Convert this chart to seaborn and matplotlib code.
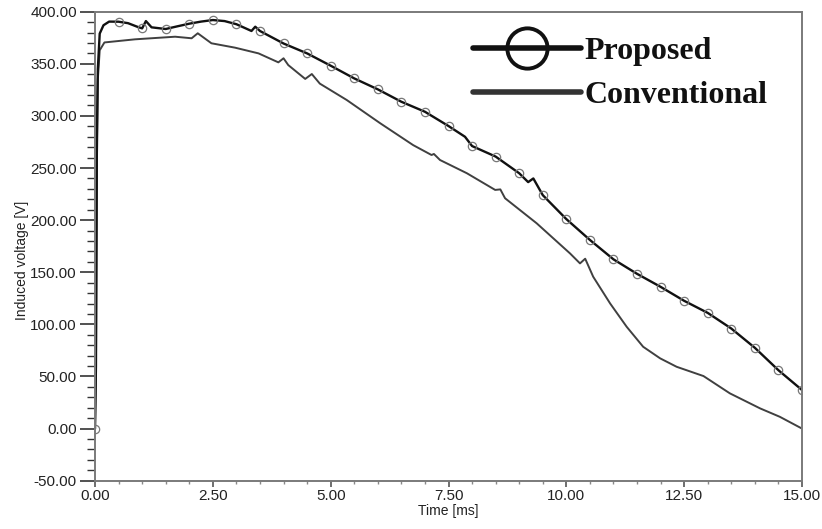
import numpy as np
import matplotlib
matplotlib.use("Agg")
import matplotlib.pyplot as plt
import seaborn as sns
from matplotlib.lines import Line2D
from matplotlib.ticker import MultipleLocator, FormatStrFormatter

# ---- data ----
prop_t = [0.0, 0.02, 0.04, 0.06, 0.1, 0.18, 0.3, 0.5, 0.7, 0.9, 1.0, 1.08, 1.2,
          1.5, 1.75, 2.0, 2.25, 2.5, 2.75, 3.0, 3.32, 3.4, 3.5, 4.0, 4.5, 5.0,
          5.5, 6.0, 6.5, 7.0, 7.5, 7.85, 8.0, 8.5, 9.0, 9.19, 9.3, 9.5, 10.0,
          10.5, 11.0, 11.5, 12.0, 12.5, 13.0, 13.5, 14.0, 14.5, 15.0]
prop_v = [0.0, 60, 280, 345, 379, 387, 390.5, 390.4, 389, 385.5, 384, 391, 385,
          383.4, 386, 388.5, 390.5, 392, 391, 388, 381.5, 385.6, 381.5, 369.5, 360, 348.2,
          336, 325.5, 313.6, 304, 290.3, 280, 271.1, 261, 245, 236.5, 240, 224, 201,
          181, 162.4, 148.5, 136, 122.6, 111, 96, 77.5, 56, 37]

conv_t = [0.0, 0.02, 0.04, 0.06, 0.1, 0.2, 0.85, 1.7, 2.05, 2.18, 2.47, 2.97,
          3.47, 3.89, 4.0, 4.1, 4.46, 4.6, 4.77, 5.34, 6.05, 6.75, 7.14, 7.19,
          7.32, 7.89, 8.49, 8.6, 8.7, 9.37, 10.08, 10.29, 10.4, 10.57, 10.93,
          11.28, 11.63, 11.99, 12.34, 12.91, 13.47, 14.11, 14.53, 15.0]
conv_v = [0.0, 55, 250, 335, 363, 370.5, 373.5, 376, 374.5, 379.3, 369.7, 365.5,
          360, 351.4, 355.3, 348.8, 335.5, 340.2, 331, 315.3, 293, 272, 262.5, 263.5,
          257.7, 245, 229, 229.5, 221, 197, 168, 158.5, 163, 145.7, 120,
          97.7, 78.5, 67.4, 59.3, 50.4, 33.8, 19.4, 11.3, 0.0]

labels = ["Proposed", "Conventional"]
x_label = "Time [ms]"
y_label = "Induced voltage [V]"

# ---- plotting ----
sns.set_theme(style="ticks")
plt.rcParams['font.family'] = ['Liberation Sans', 'DejaVu Sans']

fig = plt.figure(figsize=(8.22, 5.29), dpi=100)
ax = fig.add_axes([95/822, 1 - 480.7/529, (802-95)/822, (480.7-11.7)/529])

marker_idx = [i for i, t in enumerate(prop_t) if abs(t / 0.5 - round(t / 0.5)) < 1e-9]

sns.lineplot(x=conv_t, y=conv_v, ax=ax, color="#404040", linewidth=1.4,
             sort=False, estimator=None)
sns.lineplot(x=prop_t, y=prop_v, ax=ax, color="#111111", linewidth=1.7,
             sort=False, estimator=None, marker="o", markevery=marker_idx,
             markersize=6, markerfacecolor="none", markeredgecolor="#777777",
             markeredgewidth=0.9)

ax.set_xlim(0, 15)
ax.set_ylim(-50, 400)
ax.xaxis.set_major_locator(MultipleLocator(2.5))
ax.xaxis.set_minor_locator(MultipleLocator(0.5))
ax.yaxis.set_major_locator(MultipleLocator(50))
ax.yaxis.set_minor_locator(MultipleLocator(10))
ax.xaxis.set_major_formatter(FormatStrFormatter("%.2f"))
ax.yaxis.set_major_formatter(FormatStrFormatter("%.2f"))

for s in ax.spines.values():
    s.set_color("#7a7a7a")
    s.set_linewidth(1.4)

ax.tick_params(axis="y", which="major", length=11, width=1.2, color="#333333",
               labelsize=11, labelcolor="#222222", pad=2, direction="out")
ax.tick_params(axis="y", which="minor", length=5.5, width=1.0, color="#333333",
               direction="out")
ax.tick_params(axis="x", which="major", length=4, width=1.2, color="#555555",
               labelsize=11, labelcolor="#222222", pad=2, direction="out")
ax.tick_params(axis="x", which="minor", length=2, width=1.0, color="#888888",
               direction="out")

ax.set_xlabel(x_label, fontsize=10, color="#222222", labelpad=1)
ax.set_ylabel(y_label, fontsize=10, color="#222222", labelpad=0)
ax.yaxis.set_label_coords(-0.094, 0.47)
ax.grid(False)

handles = [
    Line2D([0], [0], color="#111111", linewidth=4, marker="o", markersize=29,
           markerfacecolor="none", markeredgecolor="#111111", markeredgewidth=2.8),
    Line2D([0], [0], color="#333333", linewidth=4),
]
leg = ax.legend(handles, labels, loc="upper right", bbox_to_anchor=(0.983, 0.994),
                frameon=False, handlelength=3.4, handletextpad=0.1,
                labelspacing=0.45, borderpad=0.2,
                prop={"family": "Liberation Serif", "weight": "bold", "size": 23})
for txt in leg.get_texts():
    txt.set_color("#111111")

fig.savefig("out.png", dpi=100, facecolor="white")
